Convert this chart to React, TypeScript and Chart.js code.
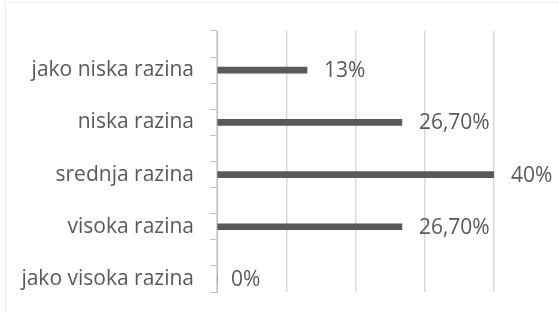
import React, { useEffect, useRef } from "react";
import { Chart, registerables } from "chart.js";

Chart.register(...registerables);

const categories = ["", "jako niska razina", "", "niska razina", "", "srednja razina", "", "visoka razina", "", "jako visoka razina"];
const values = [null, 13, null, 26.7, null, 40, null, 26.7, null, 0];
const valueLabels = ["", "13%", "", "26,70%", "", "40%", "", "26,70%", "", "0%"];
const xTicks = [0, 10, 20, 30, 40];

const FONT = "Open Sans";
const TEXT = "#595959";

const dataLabelPlugin = {
  id: "dataLabels",
  afterDatasetsDraw(chart: any) {
    const ctx = chart.ctx;
    const meta = chart.getDatasetMeta(0);
    ctx.save();
    ctx.font = `21px "${FONT}"`;
    ctx.fillStyle = TEXT;
    ctx.textBaseline = "middle";
    ctx.textAlign = "left";
    meta.data.forEach((el: any, i: number) => {
      const lbl = valueLabels[i];
      if (!lbl) return;
      const v = values[i] as number;
      const gap = v === 0 ? 14 : 17;
      ctx.fillText(lbl, el.x + gap, el.y + 1);
    });
    ctx.restore();
  },
};

export default function App() {
  const ref = useRef<HTMLCanvasElement>(null);
  useEffect(() => {
    document.body.style.margin = "0";
    const chart = new Chart(ref.current!, {
      type: "bar",
      data: {
        labels: categories,
        datasets: [
          {
            data: values as any,
            backgroundColor: "#595959",
            barThickness: 6,
          },
        ],
      },
      options: {
        indexAxis: "y",
        animation: false,
        responsive: false,
        maintainAspectRatio: false,
        layout: { padding: { top: 31, bottom: 20, right: 65, left: 0 } },
        plugins: { legend: { display: false }, tooltip: { enabled: false } },
        scales: {
          x: {
            min: xTicks[0],
            max: xTicks[xTicks.length - 1],
            afterBuildTicks: (s: any) => {
              s.ticks = xTicks.map((v) => ({ value: v }));
            },
            afterFit: (s: any) => {
              s.height = 0;
            },
            ticks: { display: false },
            grid: { color: "#d9d9d9", lineWidth: 1.5, drawTicks: false },
            border: { display: false },
          },
          y: {
            afterFit: (s: any) => {
              s.width = 217;
              s.paddingTop = 0;
              s.paddingBottom = 0;
            },
            ticks: {
              color: TEXT,
              font: { family: FONT, size: 21 },
              padding: 16,
              autoSkip: false,
            },
            grid: {
              drawOnChartArea: false,
              drawTicks: true,
              tickLength: 7,
              color: "#bfbfbf",
              offset: true,
            },
            border: { display: true, color: "#bfbfbf", width: 1 },
          },
        },
      },
      plugins: [dataLabelPlugin],
    });
    return () => chart.destroy();
  }, []);
  return (
    <div style={{ position: "fixed", left: 0, top: 0, width: 559, height: 312, background: "#fff" }}>
      <div
        style={{
          position: "absolute",
          left: 5,
          top: 2,
          right: 0,
          bottom: 0,
          borderLeft: "1px solid #ececec",
          borderTop: "1px solid #f2f2f2",
        }}
      />
      <canvas ref={ref} width={559} height={312} style={{ position: "absolute", left: 0, top: 0 }} />
    </div>
  );
}
